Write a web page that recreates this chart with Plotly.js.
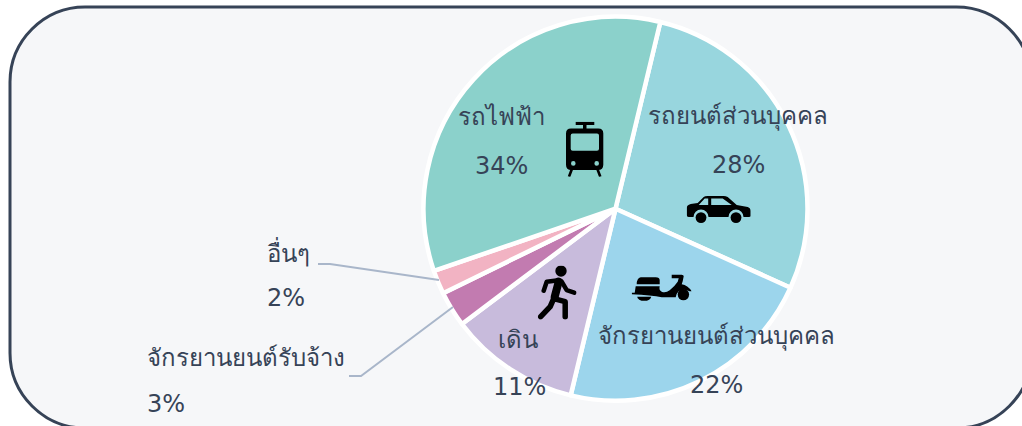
<!DOCTYPE html>
<html><head><meta charset="utf-8">
<script src="https://cdn.plot.ly/plotly-3.0.1.min.js"></script>
<style>html,body{margin:0;padding:0;background:#fff;overflow:hidden}#c{width:1022px;height:426px}</style>
</head><body><div id="c"></div>
<script>
const categories = ["รถยนต์ส่วนบุคคล","จักรยานยนต์ส่วนบุคคล","เดิน","จักรยานยนต์รับจ้าง","อื่นๆ","รถไฟฟ้า"];
const shares = [28,22,11,3,2,34];
const sliceColors = ["#98d6de","#9cd5ec","#c8bbdc","#c27bb0","#f2b3c3","#8bd1cb"];
const nameX = [738,716,518,145,265,501];
const pctX = [738,716,519,145,265,501];
const labelAnchor = ['center','center','center','left','left','center'];
const nameY = [115,335,338,356,252,115];
const pctY = [165,385,387,404,298,166];

const W=1022,H=426;
const fx=x=>x/W, fy=y=>1-y/H;
const CX=615.5,CY=208.7,R=192;

const annotations=[];
categories.forEach((c,i)=>{
  const base={xref:'paper',yref:'paper',showarrow:false,xanchor:labelAnchor[i],yanchor:'middle'};
  annotations.push(Object.assign({},base,{x:fx(nameX[i]),y:fy(nameY[i]),text:c,font:{family:'Lato',size:24,color:'#364357'}}));
  annotations.push(Object.assign({},base,{x:fx(pctX[i]),y:fy(pctY[i]),text:shares[i]+'%',font:{family:'DejaVu Sans',size:24,color:'#364357'}}));
});

const panelL=10,panelT=7,panelR=1031.5,panelB=428,r=75,k=0.45*r;
const p=(x,y)=>fx(x)+','+fy(y);
const panelPath='M'+p(panelL+r,panelT)+' L'+p(panelR-r,panelT)+
 ' C'+p(panelR-k,panelT)+' '+p(panelR,panelT+k)+' '+p(panelR,panelT+r)+
 ' L'+p(panelR,panelB-r)+' C'+p(panelR,panelB-k)+' '+p(panelR-k,panelB)+' '+p(panelR-r,panelB)+
 ' L'+p(panelL+r,panelB)+' C'+p(panelL+k,panelB)+' '+p(panelL,panelB-k)+' '+p(panelL,panelB-r)+
 ' L'+p(panelL,panelT+r)+' C'+p(panelL,panelT+k)+' '+p(panelL+k,panelT)+' '+p(panelL+r,panelT)+' Z';
const leader1='M'+p(318,264)+' L'+p(330,264)+' L'+p(439,280);
const leader2='M'+p(349,376)+' L'+p(361,376)+' L'+p(453,307);
const lineStyle={color:'#a9b6ca',width:2};
const shapes=[
 {type:'path',xref:'paper',yref:'paper',path:panelPath,fillcolor:'#f6f7f9',line:{color:'#364357',width:3},layer:'below'},
 {type:'path',xref:'paper',yref:'paper',path:leader1,line:lineStyle,layer:'above'},
 {type:'path',xref:'paper',yref:'paper',path:leader2,line:lineStyle,layer:'above'}
];

const svg=(w,h,body)=>'data:image/svg+xml;utf8,'+encodeURIComponent('<svg xmlns="http://www.w3.org/2000/svg" width="'+w+'" height="'+h+'" viewBox="0 0 '+w+' '+h+'">'+body+'</svg>');
const train=svg(38,55,'<path fill="#000" fill-rule="evenodd" d="M9.700 0H28.300V3.300H20.500V6.700H32.300Q37.300 6.700 37.300 11.700V43Q37.300 48.300 32 48.300H5.300Q0 48.300 0 43V11.700Q0 6.700 5 6.700H17V3.300H9.700ZM6.700 11.700Q4.700 11.700 4.700 13.700V27Q4.700 29 6.700 29H31Q33 29 33 27V13.700Q33 11.700 31 11.700ZM7.300 39.400A2.300 2.300 0 1 0 7.300 44A2.300 2.300 0 1 0 7.300 39.400ZM30.700 39.400A2.300 2.300 0 1 0 30.700 44A2.300 2.300 0 1 0 30.700 39.400Z"/><path fill="none" stroke="#000" stroke-width="2.600" d="M6 47L3 55M31.300 47L34.300 55"/>');
const car=svg(64,28,'<path fill="#000" fill-rule="evenodd" d="M0 12Q0 9 4 8L11 7L17 1Q18 0 21 0H37Q39 0 41 1L50 9L61 11Q64 12 64 15V20Q64 21 62 21H56.800A7.500 7.500 0 0 0 41.800 21H21.800A7.500 7.500 0 0 0 6.800 21H2Q0 21 0 19ZM12 9L18 2.500H21.500V9ZM24.500 2.500H36L45 9H24.500Z"/><circle cx="14.300" cy="21.600" r="5.400"/><circle cx="49.300" cy="21.600" r="5.400"/>');
const scooter=svg(60,28,'<path fill="#000" d="M5 11Q5 5 9 4H24Q28 4 28 7V11ZM4 13H28Q27 17 30 18.500Q34 20 38 17Q43 13 46 8.500L47 5H40V1.500H50Q52 1.500 52 3L51 8L50 11Q56 12 60 18L58 18Q52 15 47 18Q44 21 44 24H30Q20 22 0 21V19.500H3Z"/><circle cx="51.700" cy="21.300" r="5.700"/><path fill="#000" d="M5.500 23.500H19.500A7 4 0 0 1 5.500 23.500Z"/>');
const walker=svg(39,54,'<circle cx="23.300" cy="5.300" r="5.700" fill="#000"/><path fill="none" stroke="#000" stroke-width="8" stroke-linecap="round" d="M21 16L17 31"/><g fill="none" stroke="#000" stroke-linecap="round" stroke-linejoin="round"><path stroke-width="4.500" d="M21 14.500L9 16L6 25M24 16L29 24.500L36.500 27"/><path stroke-width="5.500" d="M16 33L12.500 41L3 51M16 33L27.500 36L27.500 51"/></g>');
const img=(source,x,y,w,h)=>({source,xref:'paper',yref:'paper',x:fx(x),y:fy(y),sizex:w/W,sizey:h/H,xanchor:'left',yanchor:'top',sizing:'stretch',layer:'above'});
const images=[img(train,566,121.7,38,55),img(car,686.7,196,64,28),img(scooter,631.7,273.3,60,28),img(walker,537.7,265.7,39,54)];

const data=[{type:'pie',labels:categories,values:shares,sort:false,direction:'clockwise',rotation:13.5,
  textinfo:'none',hoverinfo:'label+percent',
  marker:{colors:sliceColors,line:{color:'#ffffff',width:4.5}},
  domain:{x:[fx(CX-R),fx(CX+R)],y:[fy(CY+R),fy(CY-R)]},showlegend:false}];
const layout={width:W,height:H,margin:{l:0,r:0,t:0,b:0},paper_bgcolor:'#ffffff',showlegend:false,annotations,shapes,images};
Plotly.newPlot('c',data,layout,{displayModeBar:false,responsive:false});
</script></body></html>
